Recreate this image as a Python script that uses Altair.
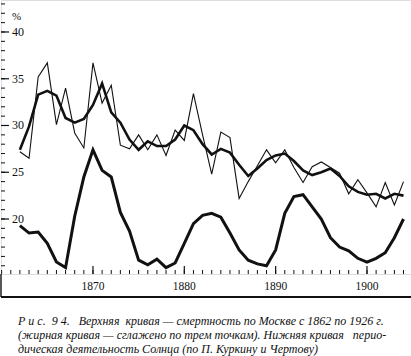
import altair as alt
import pandas as pd

years = list(range(1862, 1905))
mortality = [27.2, 26.5, 35.2, 36.7, 30.1, 34.0, 29.2, 27.6, 36.7, 32.4,
             34.3, 27.9, 27.5, 29.0, 27.4, 29.0, 26.8, 29.5, 28.4, 33.4,
             29.0, 24.8, 29.3, 28.7, 22.2, 24.0, 25.7, 27.4, 26.0, 27.4,
             25.5, 23.9, 25.6, 26.1, 25.5, 24.9, 22.7, 24.2, 22.8, 21.3,
             23.9, 21.5, 24.0]
smoothed = [27.4, 29.9, 33.3, 33.7, 33.2, 30.8, 30.3, 30.7, 32.2, 34.5,
            31.4, 30.3, 28.5, 27.4, 28.3, 27.8, 27.8, 28.5, 30.0, 29.5,
            28.0, 26.9, 27.5, 27.1, 25.8, 24.6, 25.4, 26.3, 26.8, 27.0,
            26.2, 25.2, 24.7, 25.0, 25.4, 24.6, 23.5, 22.9, 22.6, 22.7,
            22.2, 22.7, 22.5]
sun = [19.3, 18.5, 18.6, 17.4, 15.4, 14.8, 20.3, 24.5, 27.4, 25.2,
       24.5, 20.7, 18.7, 15.6, 15.1, 15.7, 14.8, 15.3, 17.4, 19.5,
       20.4, 20.6, 20.2, 18.5, 16.7, 15.6, 15.2, 15.0, 16.7, 20.6,
       22.4, 22.6, 21.3, 20.0, 18.0, 17.0, 16.6, 15.8, 15.4, 15.8,
       16.4, 18.0, 20.0]

y_label_values = [20, 25, 30, 35, 40]
y_unit = ["%"]
y_minor_ticks = list(range(15, 44))
x_label_values = [1870, 1880, 1890, 1900]
x_minor_ticks = list(range(1860, 1905))
x_major_ticks = [1870, 1880, 1890, 1900]

NB = "\u00a0"
caption = [
    "Р" + NB + "и" + NB + "с." + NB + " 9" + NB + "4." + NB + NB + " Верхняя" + NB
    + " кривая — смертность по Москве с 1862 по 1926 г.",
    "(жирная кривая — сглажено по трем точкам). Нижняя кривая" + NB + NB + " перио-",
    "дическая деятельность Солнца (по П. Куркину и Чертову)",
]

W, H = 410, 274
INK = "#111111"
SERIF = "Liberation Serif"

xscale = alt.Scale(domain=[1859.93, 1904.82], nice=False, zero=False)
yscale = alt.Scale(domain=[14.12, 43.42], nice=False, zero=False)

series_df = pd.DataFrame({"year": years, "mortality": mortality,
                          "smoothed": smoothed, "sun": sun})

xaxis = alt.Axis(values=x_label_values, labels=False, ticks=False, grid=False,
                 domain=True, domainColor=INK, domainWidth=1.8, title=None)
yaxis = alt.Axis(values=y_label_values, labels=False, ticks=False, grid=False,
                 domain=True, domainColor=INK, domainWidth=1.4, title=None)

base = alt.Chart(series_df)
thin = base.mark_line(color=INK, strokeWidth=1.1).encode(
    x=alt.X("year:Q", scale=xscale, axis=xaxis),
    y=alt.Y("mortality:Q", scale=yscale, axis=yaxis),
)
thick = base.mark_line(color=INK, strokeWidth=2.6).encode(
    x=alt.X("year:Q", scale=xscale, axis=None),
    y=alt.Y("smoothed:Q", scale=yscale, axis=None),
)
sun_line = base.mark_line(color=INK, strokeWidth=3).encode(
    x=alt.X("year:Q", scale=xscale, axis=None),
    y=alt.Y("sun:Q", scale=yscale, axis=None),
)

ymin_df = pd.DataFrame({"v": y_minor_ticks})
ymaj_df = pd.DataFrame({"v": y_label_values})
ytick_minor = alt.Chart(ymin_df).mark_rule(color=INK, strokeWidth=1).encode(
    y=alt.Y("v:Q", scale=yscale, axis=None), x=alt.value(0), x2=alt.value(4))
ytick_major = alt.Chart(ymaj_df).mark_rule(color=INK, strokeWidth=1.2).encode(
    y=alt.Y("v:Q", scale=yscale, axis=None), x=alt.value(0), x2=alt.value(8))
ylabels = alt.Chart(ymaj_df).mark_text(
    align="left", baseline="middle", font=SERIF, fontSize=12, color=INK
).encode(y=alt.Y("v:Q", scale=yscale, axis=None), x=alt.value(11),
         text=alt.Text("v:Q", format="d"))
yunit = alt.Chart(pd.DataFrame({"u": y_unit})).mark_text(
    align="left", baseline="middle", font=SERIF, fontSize=11, color=INK
).encode(x=alt.value(11), y=alt.value(17), text="u:N")

xmin_df = pd.DataFrame({"t": x_minor_ticks})
xmaj_df = pd.DataFrame({"t": x_major_ticks})
xtick_minor = alt.Chart(xmin_df).mark_rule(color=INK, strokeWidth=1).encode(
    x=alt.X("t:Q", scale=xscale, axis=None), y=alt.value(H), y2=alt.value(H - 4))
xtick_major = alt.Chart(xmaj_df).mark_rule(color=INK, strokeWidth=1.2).encode(
    x=alt.X("t:Q", scale=xscale, axis=None), y=alt.value(H), y2=alt.value(H - 8))
xlabels = alt.Chart(pd.DataFrame({"t": x_label_values})).mark_text(
    align="center", baseline="middle", font=SERIF, fontSize=11.5, color=INK
).encode(x=alt.X("t:Q", scale=xscale, axis=None), y=alt.value(H + 13),
         text=alt.Text("t:Q", format="d"))

one = pd.DataFrame({"a": [0]})
box_bottom = alt.Chart(one).mark_rule(color=INK, strokeWidth=2).encode(
    x=alt.value(0), x2=alt.value(W), y=alt.value(H + 23))
box_left = alt.Chart(one).mark_rule(color=INK, strokeWidth=1.4).encode(
    x=alt.value(0), y=alt.value(H), y2=alt.value(H + 23))

chart = alt.layer(
    thin, thick, sun_line, ytick_minor, ytick_major, ylabels, yunit,
    xtick_minor, xtick_major, xlabels, box_bottom, box_left,
).properties(
    width=W, height=H,
    autosize=alt.AutoSizeParams(type="none"),
    padding={"left": 1, "top": 0, "right": 0, "bottom": 82},
    title=alt.TitleParams(text=caption, orient="bottom", anchor="start",
                          frame="group", dx=17, offset=18, font=SERIF,
                          fontStyle="italic", fontSize=12, fontWeight="normal",
                          lineHeight=14, color=INK),
).configure_view(stroke=None).configure(background="white")

chart.save("out.html", embed_options={"renderer": "svg", "actions": False})
